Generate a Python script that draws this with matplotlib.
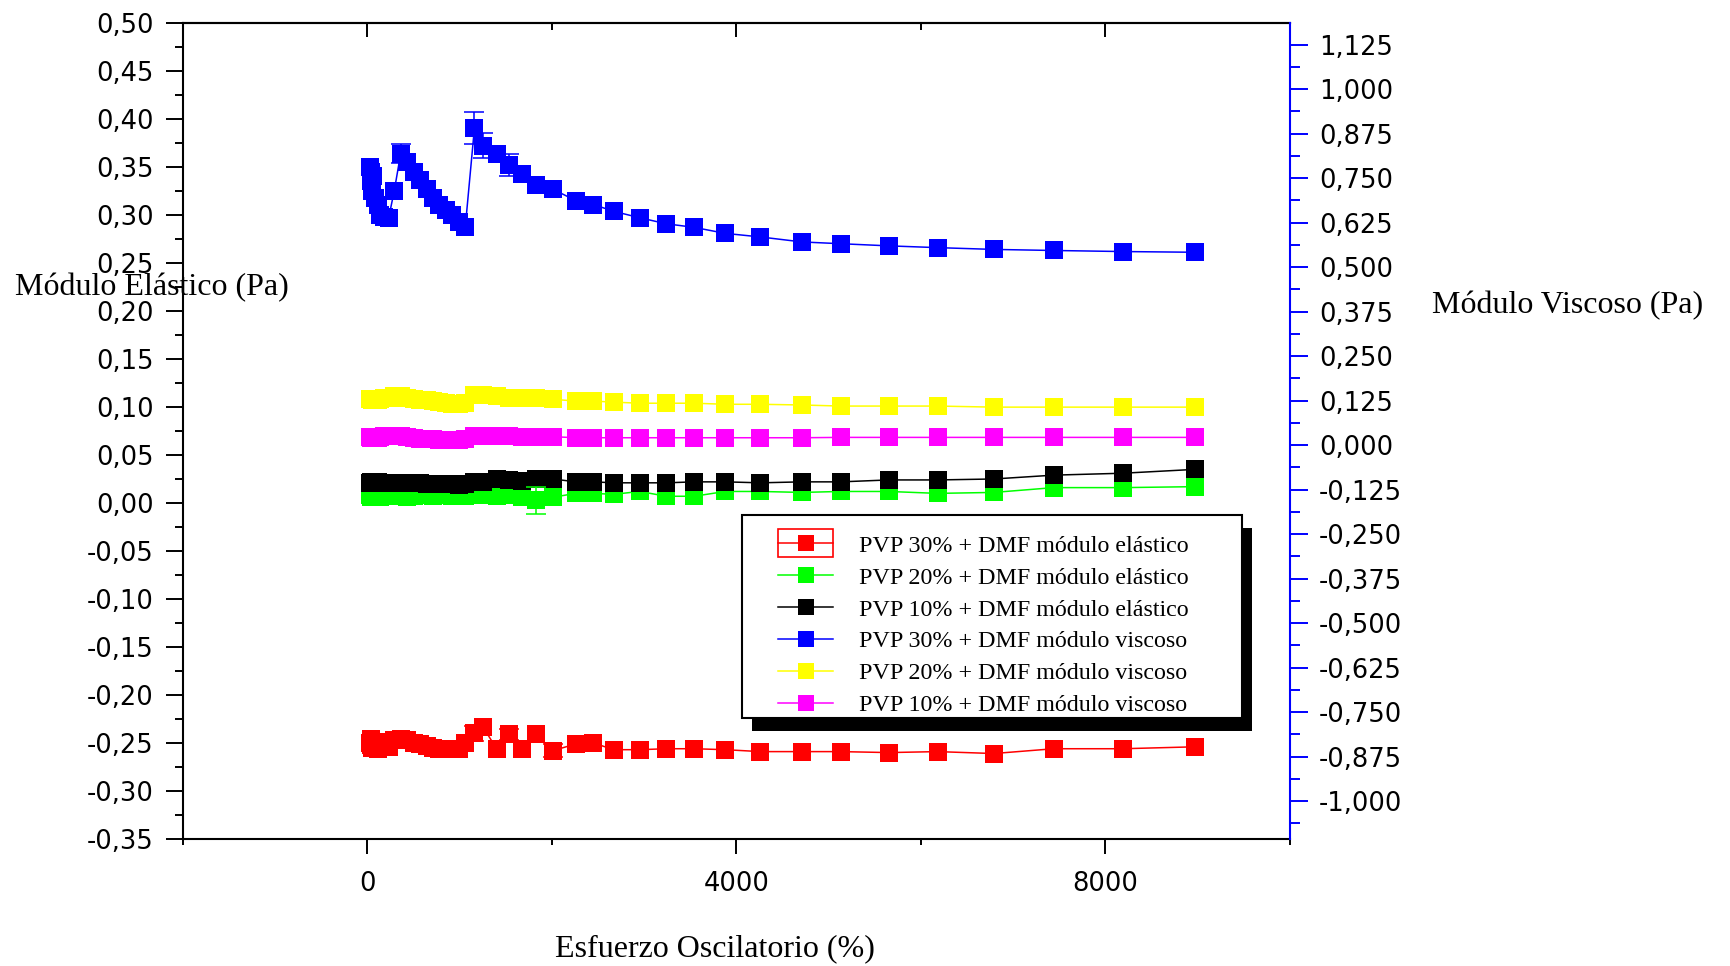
import matplotlib.pyplot as plt
import numpy as np
from matplotlib.ticker import MultipleLocator, FuncFormatter
from matplotlib.patches import Rectangle
from matplotlib.legend_handler import HandlerLine2D

# Strain sweep (%) shared by all measurements
strain = [30, 35, 40, 50, 65, 85, 110, 140, 180, 230,
          290, 360, 430, 500, 570, 640, 710, 780, 850, 920,
          990, 1060, 1160, 1250, 1400, 1530, 1670, 1830, 2010, 2260,
          2450, 2670, 2950, 3240, 3540, 3880, 4260, 4710, 5130, 5650,
          6180, 6790, 7440, 8190, 8970]

# Elastic modulus (Pa), left axis
pvp30_elastic = [-0.250, -0.246, -0.252, -0.255, -0.250, -0.253, -0.256, -0.254, -0.249, -0.254,
                 -0.247, -0.246, -0.247, -0.250, -0.251, -0.253, -0.255, -0.256, -0.256, -0.256,
                 -0.256, -0.250, -0.240, -0.233, -0.256, -0.241, -0.256, -0.241, -0.258, -0.251,
                 -0.250, -0.257, -0.257, -0.256, -0.256, -0.257, -0.259, -0.259, -0.259, -0.260,
                 -0.259, -0.261, -0.256, -0.256, -0.254]
pvp20_elastic = [0.008, 0.007, 0.006, 0.006, 0.007, 0.008, 0.007, 0.006, 0.007, 0.008,
                 0.008, 0.007, 0.006, 0.007, 0.008, 0.008, 0.007, 0.008, 0.008, 0.007,
                 0.008, 0.007, 0.009, 0.008, 0.007, 0.008, 0.006, 0.003, 0.006, 0.010,
                 0.010, 0.009, 0.012, 0.007, 0.007, 0.012, 0.012, 0.011, 0.012, 0.012,
                 0.010, 0.011, 0.016, 0.016, 0.017]
pvp10_elastic = [0.021, 0.021, 0.022, 0.021, 0.021, 0.021, 0.022, 0.021, 0.021, 0.021,
                 0.021, 0.021, 0.021, 0.021, 0.021, 0.020, 0.020, 0.020, 0.020, 0.020,
                 0.019, 0.020, 0.022, 0.022, 0.025, 0.024, 0.023, 0.025, 0.025, 0.022,
                 0.022, 0.021, 0.021, 0.021, 0.022, 0.022, 0.021, 0.022, 0.022, 0.024,
                 0.024, 0.025, 0.029, 0.031, 0.035]

# Viscous modulus (Pa), right axis
pvp30_viscous = [0.782, 0.741, 0.768, 0.714, 0.755, 0.695, 0.674, 0.647, 0.641, 0.639,
                 0.714, 0.819, 0.795, 0.768, 0.744, 0.719, 0.695, 0.676, 0.660, 0.647,
                 0.628, 0.612, 0.892, 0.841, 0.819, 0.787, 0.763, 0.730, 0.719, 0.687,
                 0.676, 0.657, 0.639, 0.622, 0.612, 0.595, 0.585, 0.571, 0.566, 0.560,
                 0.555, 0.550, 0.547, 0.544, 0.542]
pvp20_viscous = [0.129, 0.129, 0.129, 0.126, 0.126, 0.126, 0.126, 0.129, 0.132, 0.134,
                 0.137, 0.137, 0.134, 0.129, 0.126, 0.126, 0.124, 0.121, 0.118, 0.115,
                 0.115, 0.118, 0.140, 0.140, 0.137, 0.134, 0.134, 0.132, 0.129, 0.124,
                 0.124, 0.121, 0.118, 0.118, 0.118, 0.115, 0.115, 0.113, 0.110, 0.110,
                 0.110, 0.107, 0.107, 0.107, 0.107]
pvp10_viscous = [0.024, 0.024, 0.021, 0.021, 0.021, 0.021, 0.021, 0.024, 0.026, 0.026,
                 0.026, 0.026, 0.024, 0.021, 0.018, 0.018, 0.018, 0.016, 0.016, 0.016,
                 0.016, 0.018, 0.026, 0.026, 0.026, 0.026, 0.024, 0.024, 0.024, 0.021,
                 0.021, 0.021, 0.021, 0.021, 0.021, 0.021, 0.021, 0.021, 0.022, 0.022,
                 0.022, 0.022, 0.022, 0.022, 0.022]

# the few points with visible error bars (index into strain, error)
pvp30_elastic_err_idx = [22, 25, 28]
pvp30_elastic_err = [0.008, 0.006, 0.007]
pvp20_elastic_err_idx = [27]
pvp20_elastic_err = [0.014]
pvp30_viscous_err_idx = [11, 22, 23, 25]
pvp30_viscous_err = [0.027, 0.045, 0.035, 0.030]

labels = ['PVP 30% + DMF módulo elástico', 'PVP 20% + DMF módulo elástico',
          'PVP 10% + DMF módulo elástico', 'PVP 30% + DMF módulo viscoso',
          'PVP 20% + DMF módulo viscoso', 'PVP 10% + DMF módulo viscoso']
colors = ['#FF0000', '#00FF00', '#000000', '#0000FF', '#FFFF00', '#FF00FF']

SERIF = 'Liberation Serif'
TICKFONT = 'DejaVu Sans'
TICKSIZE = 18.5


class BoxedHandler(HandlerLine2D):
    """Line + marker handle drawn inside an outlined box."""
    def create_artists(self, legend, orig_handle, xdescent, ydescent,
                       width, height, fontsize, trans):
        artists = super().create_artists(legend, orig_handle, xdescent, ydescent,
                                         width, height, fontsize, trans)
        h = 1.15 * fontsize
        yc = height / 2 - ydescent
        box = Rectangle((-xdescent, yc - h / 2), width, h, fill=False,
                        edgecolor=orig_handle.get_color(), lw=1.2, transform=trans)
        return [box] + artists


fig = plt.figure(figsize=(17.31, 9.66), dpi=100)
ax = fig.add_axes([0.1057, 0.1315, 0.6395, 0.8447])
ax2 = ax.twinx()

x = np.array(strain)
handles = []
series = [(ax, pvp30_elastic), (ax, pvp20_elastic), (ax, pvp10_elastic),
          (ax2, pvp30_viscous), (ax2, pvp20_viscous), (ax2, pvp10_viscous)]
for (a, vals), c, lab in zip(series, colors, labels):
    ln, = a.plot(x, vals, '-s', color=c, ms=13, mew=0, lw=1.1, label=lab)
    handles.append(ln)

errs = [(ax, pvp30_elastic, pvp30_elastic_err_idx, pvp30_elastic_err, colors[0]),
        (ax, pvp20_elastic, pvp20_elastic_err_idx, pvp20_elastic_err, colors[1]),
        (ax2, pvp30_viscous, pvp30_viscous_err_idx, pvp30_viscous_err, colors[3])]
for a, vals, idx, e, c in errs:
    a.errorbar(x[idx], np.array(vals)[idx], yerr=e, fmt='none', ecolor=c,
               elinewidth=1.1, capsize=7.5, capthick=1.1)

# axes ranges
ax.set_xlim(-2000, 10000)
ax.set_ylim(-0.35, 0.50)
ax2.set_ylim(-1.106, 1.186)


def comma(fmt):
    def f(v, pos):
        if abs(v) < 1e-9:
            v = 0.0
        return fmt.format(v).replace('.', ',')
    return FuncFormatter(f)


# bottom / left axis
ax.xaxis.set_major_locator(MultipleLocator(4000))
ax.xaxis.set_minor_locator(MultipleLocator(2000))
ax.yaxis.set_major_locator(MultipleLocator(0.05))
ax.yaxis.set_minor_locator(MultipleLocator(0.025))
ax.yaxis.set_major_formatter(comma('{:.2f}'))
ax.tick_params(axis='x', which='major', direction='out', length=10.8, width=1.4, pad=12)
ax.tick_params(axis='x', which='minor', direction='out', length=4, width=1.4)
ax.tick_params(axis='y', which='major', direction='out', length=12.2, width=1.4, pad=9)
ax.tick_params(axis='y', which='minor', direction='out', length=5.8, width=1.4)
for t in ax.get_xticklabels() + ax.get_yticklabels():
    t.set_fontfamily(TICKFONT)
    t.set_fontsize(TICKSIZE)
for side in ['left', 'bottom', 'top']:
    ax.spines[side].set_linewidth(1.5)
ax.spines['right'].set_visible(False)

# inward ticks along the top
secx = ax.secondary_xaxis('top')
secx.xaxis.set_major_locator(MultipleLocator(4000))
secx.xaxis.set_minor_locator(MultipleLocator(2000))
secx.tick_params(axis='x', which='major', direction='in', length=10, width=1.4, labeltop=False)
secx.tick_params(axis='x', which='minor', direction='in', length=5, width=1.4)
secx.spines['top'].set_linewidth(1.5)

# right axis in blue
ax2.yaxis.set_major_locator(MultipleLocator(0.125))
ax2.yaxis.set_minor_locator(MultipleLocator(0.0625))
ax2.yaxis.set_major_formatter(comma('{:.3f}'))
ax2.tick_params(axis='y', which='major', direction='out', length=13, width=1.4,
                pad=8, color='#0000FF', labelcolor='black')
ax2.tick_params(axis='y', which='minor', direction='out', length=7, width=1.4,
                color='#0000FF')
for t in ax2.get_yticklabels():
    t.set_fontfamily(TICKFONT)
    t.set_fontsize(TICKSIZE)
ax2.spines['right'].set_color('#0000FF')
ax2.spines['right'].set_linewidth(1.5)
for side in ['left', 'bottom', 'top']:
    ax2.spines[side].set_visible(False)

# axis titles
fig.text(0.0087, 0.6946, 'Módulo Elástico (Pa)', fontsize=23, family=SERIF,
         ha='left', va='baseline')
fig.text(0.8273, 0.676, 'Módulo Viscoso (Pa)', fontsize=23, family=SERIF,
         ha='left', va='baseline')
fig.text(0.4131, 0.0104, 'Esfuerzo Oscilatorio (%)', fontsize=23, family=SERIF,
         ha='center', va='baseline')

# legend box with a hard black drop shadow
fig.add_artist(Rectangle((0.43443, 0.24327), 0.28885, 0.21014, transform=fig.transFigure,
                         facecolor='black', edgecolor='none', zorder=3))
fig.add_artist(Rectangle((0.42866, 0.25673), 0.28885, 0.21014, transform=fig.transFigure,
                         facecolor='white', edgecolor='black', lw=1.5, zorder=4))
leg = fig.legend(handles, labels, loc='upper left', bbox_to_anchor=(0.4495, 0.4463),
                 frameon=False, borderpad=0, borderaxespad=0, handlelength=2.29,
                 handletextpad=1.06, labelspacing=0.42, markerscale=0.88,
                 prop={'family': SERIF, 'size': 17.3},
                 handler_map={handles[0]: BoxedHandler()})
leg.set_zorder(5)

plt.savefig('out.png', dpi=100)
